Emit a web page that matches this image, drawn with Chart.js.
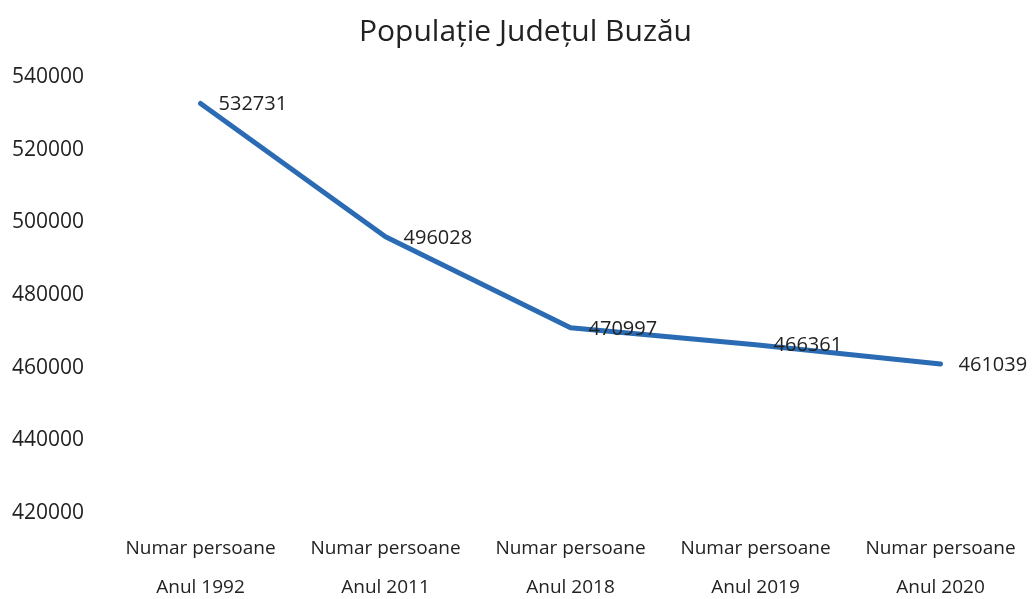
<!DOCTYPE html>
<html>
<head>
<meta charset="utf-8">
<script src="https://cdn.jsdelivr.net/npm/chart.js@4"></script>
<style>
  html, body { margin: 0; padding: 0; background: #fff; }
  #wrap { width: 1033px; height: 599px; }
</style>
</head>
<body>
<div id="wrap"><canvas id="myChart" width="1033" height="599"></canvas></div>
<script>
const categories = [
    ['Numar persoane', 'Anul 1992'],
    ['Numar persoane', 'Anul 2011'],
    ['Numar persoane', 'Anul 2018'],
    ['Numar persoane', 'Anul 2019'],
    ['Numar persoane', 'Anul 2020']
];
const population = [532731, 496028, 470997, 466361, 461039];
const yMin = 420000;
const yMax = 540000;
const yStep = 20000;
const lineColor = '#2a6bb3';
const fontName = "'Open Sans', 'Noto Sans', sans-serif";

// write the value to the right of every point
const valueLabels = {
    id: 'valueLabels',
    afterDatasetsDraw(chart) {
        const ctx = chart.ctx;
        const meta = chart.getDatasetMeta(0);
        ctx.save();
        ctx.font = '20px ' + fontName;
        ctx.fillStyle = '#222';
        ctx.textAlign = 'left';
        ctx.textBaseline = 'middle';
        meta.data.forEach((pt, i) => {
            ctx.fillText(String(population[i]), pt.x + 18, pt.y + 1);
        });
        ctx.restore();
    }
};

const ctx = document.getElementById('myChart').getContext('2d');

const myLineChart = new Chart(ctx, {
    type: 'line',
    data: {
        labels: categories,
        datasets: [{
            label: 'Populație',
            data: population,
            borderColor: lineColor,
            backgroundColor: lineColor,
            borderWidth: 5,
            fill: false,
            pointRadius: 0,
            tension: 0,
            borderCapStyle: 'round',
            borderJoinStyle: 'round'
        }]
    },
    options: {
        responsive: false,
        maintainAspectRatio: false,
        animation: false,
        layout: {
            padding: {left: 12, right: -6, top: 0, bottom: -24}
        },
        scales: {
            x: {
                offset: true,
                grid: {display: false, drawTicks: false},
                border: {display: false},
                ticks: {
                    color: '#222',
                    font: {family: fontName, size: 19, lineHeight: 2.1},
                    padding: 15,
                    maxRotation: 0
                }
            },
            y: {
                min: yMin,
                max: yMax,
                grid: {display: false, drawTicks: false},
                border: {display: false},
                ticks: {
                    stepSize: yStep,
                    color: '#222',
                    crossAlign: 'far',
                    padding: 12,
                    font: {family: fontName, size: 21},
                    callback: (v) => String(v)
                }
            }
        },
        plugins: {
            legend: {display: false},
            tooltip: {enabled: false},
            title: {
                display: true,
                text: 'Populație Județul Buzău',
                color: '#222',
                font: {family: fontName, size: 30, weight: 'normal'},
                padding: {top: 14, bottom: 27}
            }
        }
    },
    plugins: [valueLabels]
});
</script>
</body>
</html>
